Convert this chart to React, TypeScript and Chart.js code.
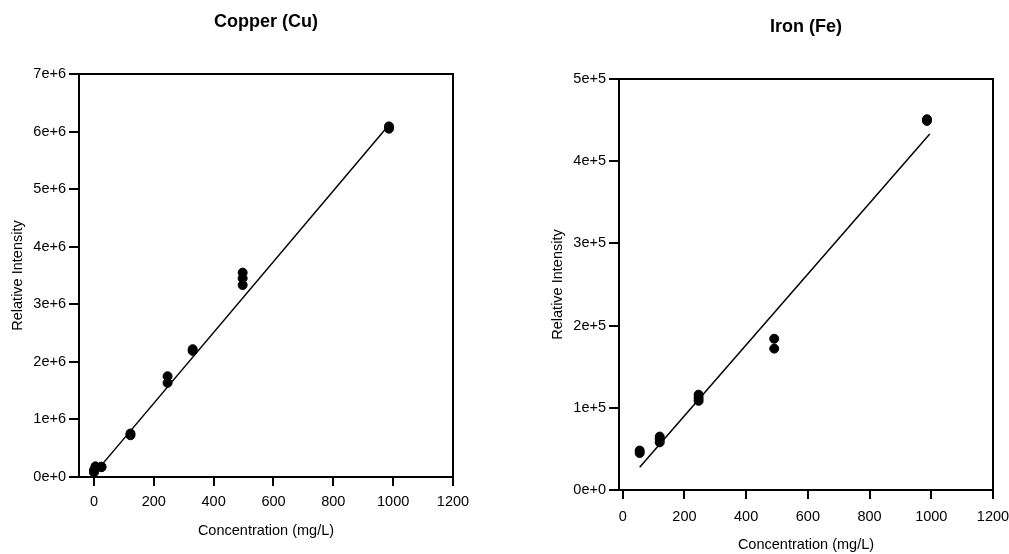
import React, { useEffect, useRef } from "react";
import { Chart, registerables } from "chart.js";

Chart.register(...registerables);

// ---- Data ----
const cuConcentration = [0, 0, 5, 25, 25, 122, 122, 246, 246, 330, 330, 497, 497, 497, 986, 986];
const cuIntensity = [80000, 120000, 185000, 170000, 180000, 755000, 725000, 1750000, 1635000, 2220000, 2190000, 3550000, 3450000, 3335000, 6090000, 6050000];
const cuFitConcentration = [0, 990];
const cuFitIntensity = [50000, 6140000];

const feConcentration = [55, 55, 120, 120, 120, 246, 246, 246, 491, 491, 986, 986];
const feIntensity = [48000, 45000, 65000, 61500, 58000, 116000, 112000, 108500, 184000, 172000, 451000, 449000];
const feFitConcentration = [55, 995];
const feFitIntensity = [27600, 433000];

const xTicks = [0, 200, 400, 600, 800, 1000, 1200];
const xTickLabels = ["0", "200", "400", "600", "800", "1000", "1200"];
const cuYTicks = [0, 1000000, 2000000, 3000000, 4000000, 5000000, 6000000, 7000000];
const cuYTickLabels = ["0e+0", "1e+6", "2e+6", "3e+6", "4e+6", "5e+6", "6e+6", "7e+6"];
const feYTicks = [0, 100000, 200000, 300000, 400000, 500000];
const feYTickLabels = ["0e+0", "1e+5", "2e+5", "3e+5", "4e+5", "5e+5"];

const FONT = "'Liberation Sans', Arial, Helvetica, sans-serif";

const boxPlugin = {
  id: "frameBox",
  afterDraw(chart: any) {
    const { ctx, chartArea } = chart;
    const { left, top, right, bottom } = chartArea;
    ctx.save();
    ctx.strokeStyle = "#000";
    ctx.lineWidth = 2;
    ctx.strokeRect(left, top, right - left, bottom - top);
    ctx.restore();
  },
};

function makeConfig(p: any) {
  const tickFont = { family: FONT, size: 14.5 };
  const axisTitleFont = { family: FONT, size: 14.5 };
  const grid = {
    display: true,
    drawOnChartArea: false,
    drawTicks: true,
    tickLength: 9,
    color: "#000",
    lineWidth: 2,
  };
  return {
    type: "scatter",
    data: {
      datasets: [
        {
          data: p.x.map((x: number, i: number) => ({ x, y: p.y[i] })),
          backgroundColor: "#000",
          borderColor: "#000",
          pointRadius: 4.5,
          borderWidth: 1,
          showLine: false,
        },
        {
          data: p.fitX.map((x: number, i: number) => ({ x, y: p.fitY[i] })),
          showLine: true,
          borderColor: "#000",
          backgroundColor: "#000",
          borderWidth: 1.5,
          pointRadius: 0,
          fill: false,
        },
      ],
    },
    options: {
      responsive: false,
      animation: false,
      events: [],
      layout: { padding: { left: p.padLeft, right: p.padRight, top: 0, bottom: 0 } },
      plugins: {
        legend: { display: false },
        tooltip: { enabled: false },
        title: {
          display: true,
          text: p.title,
          fullSize: false,
          color: "#000",
          font: { family: FONT, size: 18, weight: "bold", lineHeight: 1.2 },
          padding: { top: p.titleTop, bottom: p.titleBottom },
        },
      },
      scales: {
        x: {
          type: "linear",
          min: p.xMin,
          max: 1200,
          afterBuildTicks: (s: any) => {
            s.ticks = xTicks.map((v) => ({ value: v }));
          },
          afterFit: (s: any) => {
            s.height = p.xAxisHeight;
          },
          ticks: {
            color: "#000",
            font: tickFont,
            padding: p.xTickPad,
            maxRotation: 0,
            autoSkip: false,
            callback: (_v: any, i: number) => xTickLabels[i],
          },
          grid,
          border: { display: false },
          title: {
            display: true,
            text: "Concentration (mg/L)",
            color: "#000",
            font: axisTitleFont,
            padding: { top: 0, bottom: p.xTitleBottom },
          },
        },
        y: {
          type: "linear",
          min: 0,
          max: p.yMax,
          afterBuildTicks: (s: any) => {
            s.ticks = p.yTicks.map((v: number) => ({ value: v }));
          },
          afterFit: (s: any) => {
            s.width = 79;
          },
          ticks: {
            color: "#000",
            font: tickFont,
            padding: 3,
            autoSkip: false,
            callback: (_v: any, i: number) => p.yTickLabels[i],
          },
          grid: { ...grid, tickLength: 10 },
          border: { display: false },
          title: {
            display: true,
            text: "Relative Intensity",
            color: "#000",
            font: axisTitleFont,
            padding: { top: 9.3, bottom: 0 },
          },
        },
      },
    },
    plugins: [boxPlugin],
  };
}

function ChartPanel(props: { left: number; width: number; params: any }) {
  const ref = useRef<HTMLCanvasElement | null>(null);
  useEffect(() => {
    if (!ref.current) return;
    const chart = new Chart(ref.current, makeConfig(props.params) as any);
    return () => chart.destroy();
  }, []);
  return (
    <canvas
      ref={ref}
      width={props.width}
      height={554}
      style={{ position: "absolute", left: props.left, top: 0, width: props.width, height: 554 }}
    />
  );
}

const cuParams = {
  title: "Copper (Cu)",
  x: cuConcentration,
  y: cuIntensity,
  fitX: cuFitConcentration,
  fitY: cuFitIntensity,
  xMin: -50,
  yMax: 7000000,
  yTicks: cuYTicks,
  yTickLabels: cuYTickLabels,
  padLeft: 0,
  padRight: 51,
  titleTop: 11,
  titleBottom: 41.4,
  xAxisHeight: 77,
  xTickPad: 7,
  xTitleBottom: 14.5,
};

const feParams = {
  title: "Iron (Fe)",
  x: feConcentration,
  y: feIntensity,
  fitX: feFitConcentration,
  fitY: feFitIntensity,
  xMin: -12,
  yMax: 500000,
  yTicks: feYTicks,
  yTickLabels: feYTickLabels,
  padLeft: 36,
  padRight: 111,
  titleTop: 16,
  titleBottom: 41.4,
  xAxisHeight: 64,
  xTickPad: 9.5,
  xTitleBottom: 0.3,
};

export default function App() {
  return (
    <div
      style={{
        position: "fixed",
        left: 0,
        top: 0,
        width: 1009,
        height: 554,
        background: "#fff",
        overflow: "hidden",
      }}
    >
      <ChartPanel left={0} width={504} params={cuParams} />
      <ChartPanel left={504} width={600} params={feParams} />
    </div>
  );
}
